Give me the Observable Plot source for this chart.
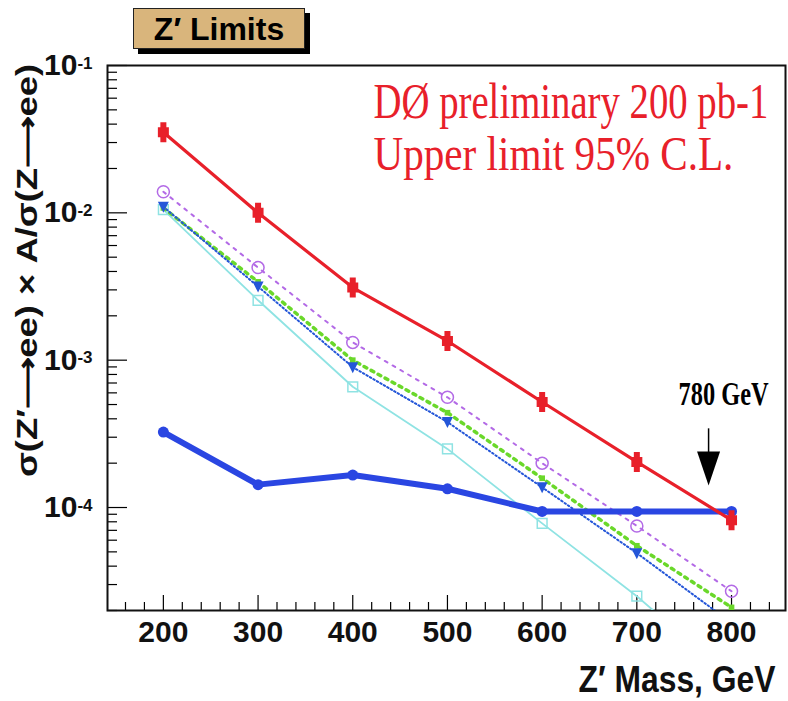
<!DOCTYPE html>
<html><head><meta charset="utf-8">
<script src="https://cdn.jsdelivr.net/npm/d3@7"></script>
<script src="https://cdn.jsdelivr.net/npm/@observablehq/plot@0.6"></script>
<style>
body{margin:0;background:#fff;}
#wrap{position:relative;width:788px;height:701px;}
#titlebox{position:absolute;left:133px;top:8px;width:170px;height:39px;background:#d9b57c;border:1px solid #222;box-shadow:5px 5px 0 #000;font:bold 32px "Liberation Sans Narrow","Liberation Sans",sans-serif;text-align:center;line-height:40px;color:#000;z-index:2;}
#wrap svg{position:absolute;left:0;top:0;}
</style></head><body>
<div id="wrap"><div id="titlebox">Z′ Limits</div></div>
<script>
// Z' mass points (GeV)
const masses = [200, 300, 400, 500, 600, 700, 800];
// Observed 95% C.L. upper limit (red)
const observedLimit = [0.0352, 0.0100, 0.00311, 0.00135, 5.2e-4, 2.04e-4, 8.2e-5];
// Theory curves
const smCouplings = [3.25e-4, 1.43e-4, 1.66e-4, 1.34e-4, 9.4e-5, 9.4e-5, 9.4e-5];   // thick blue
const modelCircles = [0.0139, 4.25e-3, 1.32e-3, 5.6e-4, 2.0e-4, 7.5e-5, 2.7e-5];   // purple open circles
const modelGreen = [0.0108, 3.4e-3, 1.0e-3, 4.4e-4, 1.58e-4, 5.5e-5, 2.1e-5];       // green dotted
const modelTriangles = [0.0110, 3.16e-3, 8.97e-4, 3.8e-4, 1.37e-4, 4.9e-5, 1.65e-5]; // blue triangles
const modelSquares = [0.0105, 2.55e-3, 6.6e-4, 2.5e-4, 7.8e-5, 2.5e-5, 7e-6];       // cyan open squares

// Axis ticks
const xMajor = [200, 300, 400, 500, 600, 700, 800];
const xMinor = d3.range(160, 860, 20).filter(v => v % 100 !== 0);
const yMajor = [1e-4, 1e-3, 1e-2, 1e-1];
const yMinor = [];
for (const e of [-5, -4, -3, -2]) for (let m = 2; m <= 9; m++) { const v = m * Math.pow(10, e); if (v >= 2e-5 && v < 0.1) yMinor.push(v); }

// Annotation values
const limitMass = [780];
const limitLabel = ["780 GeV"];
const arrowTop = [3.42e-4];
const arrowHead = [1.84e-4];
const labelLevel = [5.0e-4];
const noteLines = ["DØ preliminary 200 pb-1", "Upper limit 95% C.L."];
const yTitle = "σ(Z′⟶ee) × A/σ(Z⟶ee)";
const xTitle = "Z′ Mass, GeV";

const rows = vals => masses.map((m, i) => ({mass: m, value: vals[i]}));
const arrowRows = limitMass.map((m, i) => ({mass: m, top: arrowTop[i], head: arrowHead[i], level: labelLevel[i], label: limitLabel[i]}));

const RED = "#e8202a", BLUE = "#2a46e2", PURPLE = "#b36ae6", GREEN = "#6ad82a", TRI = "#2456d8", CYAN = "#8fe3e3";

const errMarker = {draw(ctx) { ctx.rect(-3, -10, 6, 20); ctx.rect(-5.5, -5, 11, 10); }};
const triDown = {draw(ctx) { ctx.moveTo(-5.5, -5); ctx.lineTo(5.5, -5); ctx.lineTo(0, 6); ctx.closePath(); }};
const arrowTri = {draw(ctx) { ctx.moveTo(-11.5, -17); ctx.lineTo(11.5, -17); ctx.lineTo(0, 17); ctx.closePath(); }};

const sans = "Liberation Sans Narrow, Liberation Sans, sans-serif";
const serif = "Liberation Serif, Times New Roman, serif";

const chart = Plot.plot({
  width: 788, height: 701,
  marginTop: 65, marginBottom: 91, marginLeft: 107, marginRight: 3,
  style: {background: "white", overflow: "visible"},
  x: {domain: [141, 857], label: null},
  y: {type: "log", domain: [2e-5, 0.1], label: null},
  marks: [
    // axes: inward ticks
    Plot.axisY(yMinor, {label: null, tickSize: -10, tickFormat: () => "", strokeWidth: 1.2}),
    Plot.axisY(yMajor, {label: null, tickSize: -20, tickFormat: () => "", strokeWidth: 1.2}),
    Plot.axisY(yMajor, {label: null, tickSize: 0, tickPadding: 15, tickFormat: d => "10^" + Math.round(Math.log10(d)), fontSize: 30, fontWeight: "bold", fontFamily: sans, fill: "#111"}),
    Plot.axisX(xMinor, {label: null, tickSize: -8, tickFormat: () => "", strokeWidth: 1.2}),
    Plot.axisX(xMajor, {label: null, tickSize: -15, tickFormat: () => "", strokeWidth: 1.2}),
    Plot.axisX(xMajor, {label: null, tickSize: 0, tickPadding: 10, tickFormat: d => String(d), fontSize: 30, fontWeight: "bold", fontFamily: sans, fill: "#111"}),
    Plot.frame({stroke: "#111", strokeWidth: 2}),

    // model curves
    Plot.line(rows(modelSquares), {x: "mass", y: "value", stroke: CYAN, strokeWidth: 1.8, clip: true}),
    Plot.dot(rows(modelSquares), {x: "mass", y: "value", symbol: "square", r: 5.5, stroke: CYAN, fill: "none", strokeWidth: 1.5, clip: true}),
    Plot.line(rows(modelGreen), {x: "mass", y: "value", stroke: GREEN, strokeWidth: 3.5, strokeDasharray: "3,5", clip: true}),
    Plot.dot(rows(modelGreen), {x: "mass", y: "value", symbol: "square", r: 3.2, fill: GREEN, clip: true}),
    Plot.line(rows(modelTriangles), {x: "mass", y: "value", stroke: TRI, strokeWidth: 2, strokeDasharray: "1.5,2.5", clip: true}),
    Plot.dot(rows(modelTriangles), {x: "mass", y: "value", symbol: triDown, fill: TRI, clip: true}),
    Plot.line(rows(modelCircles), {x: "mass", y: "value", stroke: PURPLE, strokeWidth: 2, strokeDasharray: "3,6", clip: true}),
    Plot.dot(rows(modelCircles), {x: "mass", y: "value", symbol: "circle", r: 6, stroke: PURPLE, fill: "none", strokeWidth: 1.5, clip: true}),

    // theory (thick blue)
    Plot.line(rows(smCouplings), {x: "mass", y: "value", stroke: BLUE, strokeWidth: 6}),
    Plot.dot(rows(smCouplings), {x: "mass", y: "value", r: 5.5, fill: BLUE}),

    // observed limit
    Plot.line(rows(observedLimit), {x: "mass", y: "value", stroke: RED, strokeWidth: 3.2}),
    Plot.dot(rows(observedLimit), {x: "mass", y: "value", symbol: errMarker, fill: RED}),

    // 780 GeV arrow
    Plot.ruleX(arrowRows, {x: "mass", y1: "top", y2: "head", dx: -4, stroke: "#000", strokeWidth: 1.5}),
    Plot.dot(arrowRows, {x: "mass", y: "head", dx: -4, symbol: arrowTri, fill: "#000"}),
    Plot.text(arrowRows, {x: "mass", y: "level", text: "label", dx: 11, lineAnchor: "bottom", textAnchor: "middle", fontFamily: serif, fontWeight: "bold", fontSize: 34, fill: "#000"}),

    // red notes
    Plot.text([noteLines[0]], {text: d => d, frameAnchor: "top-left", dx: 266, dy: 52, lineAnchor: "bottom", textAnchor: "start", fontFamily: serif, fontSize: 50, fill: RED}),
    Plot.text([noteLines[1]], {text: d => d, frameAnchor: "top-left", dx: 266, dy: 104, lineAnchor: "bottom", textAnchor: "start", fontFamily: serif, fontSize: 48, fill: RED}),

    // axis titles
    Plot.text([yTitle], {text: d => d, frameAnchor: "top-left", dx: -71, dy: 205, rotate: -90, lineAnchor: "bottom", textAnchor: "middle", fontFamily: sans, fontWeight: "bold", fontSize: 30, fill: "#111"}),
    Plot.text([xTitle], {text: d => d, frameAnchor: "bottom-right", dx: -10, dy: 81, lineAnchor: "bottom", textAnchor: "end", fontFamily: sans, fontWeight: "bold", fontSize: 36, fill: "#111"})
  ]
});
document.getElementById("wrap").appendChild(chart);

// superscript exponents; condensed (tall, narrow) texts via font-size + vertical stretch
const widths = new Map([
  [noteLines[0], 395], [noteLines[1], 360], [limitLabel[0], 90], [yTitle, 415], [xTitle, 197]
]);
chart.querySelectorAll("text").forEach(t => {
  const s = t.textContent;
  if (/^10\^/.test(s)) {
    const exp = s.slice(3);
    t.textContent = "10";
    const ts = document.createElementNS("http://www.w3.org/2000/svg", "tspan");
    ts.setAttribute("dy", "-0.38em");
    ts.setAttribute("font-size", "17");
    ts.textContent = exp;
    t.appendChild(ts);
  } else if (widths.has(s)) {
    const f0 = parseFloat(getComputedStyle(t).fontSize);
    const w0 = t.getComputedTextLength();
    const k = widths.get(s) / w0;
    t.setAttribute("font-size", (f0 * k).toFixed(2));
    t.style.fontSize = (f0 * k).toFixed(2) + "px";
    const tr = t.getAttribute("transform") || "";
    t.setAttribute("transform", tr + ` scale(1,${(1 / k).toFixed(4)})`);
  }
});
</script>
</body></html>
